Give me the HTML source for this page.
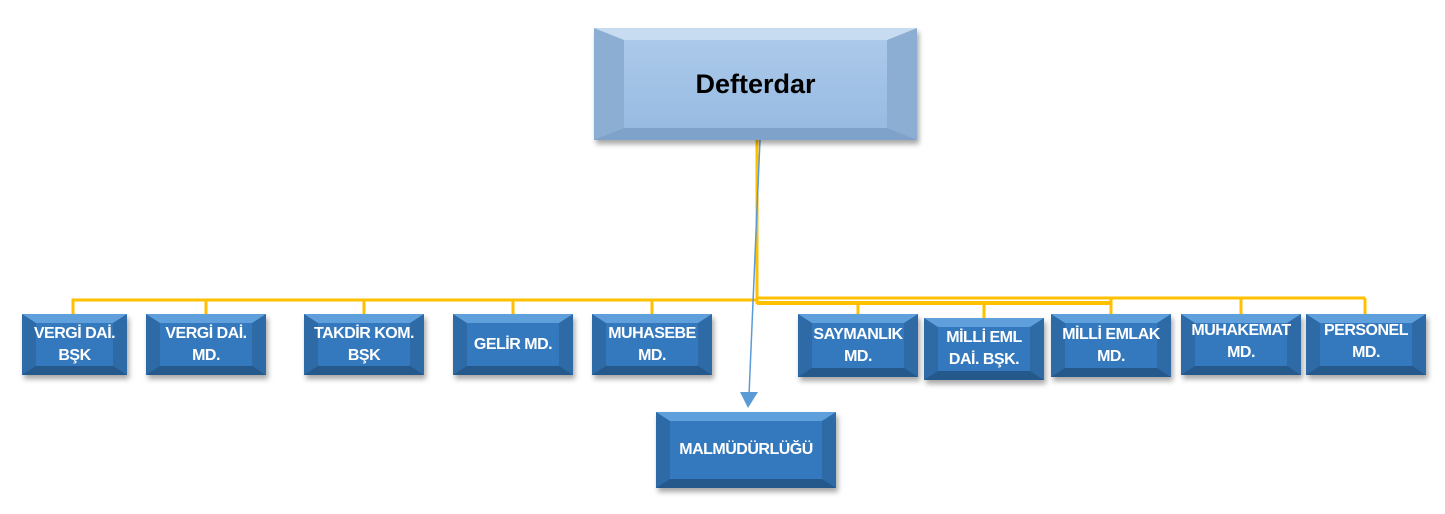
<!DOCTYPE html>
<html><head><meta charset="utf-8"><style>
body{margin:0;width:1445px;height:514px;background:#fff;position:relative;overflow:hidden;font-family:"Liberation Sans","DejaVu Sans",sans-serif}
.b{position:absolute;box-shadow:2px 4px 5px rgba(0,0,0,.35)}
.bv{position:absolute;left:0;top:0;width:100%;height:100%;box-sizing:border-box;border-style:solid;border-width:9px 14px 9px 14px;border-color:#5fa0dc #2d6aa6 #25598c #2d6aa6;background:#3479bd}
.t{position:absolute;left:0;top:0;width:100%;height:100%;display:flex;align-items:center;justify-content:center;text-align:center;color:#fff;font-weight:bold;font-size:16px;line-height:22px;letter-spacing:-.5px}
.d .bv{border-width:12px 30px 12px 30px;border-color:#c7dcf1 #8caed3 #7fa2cb #8caed3;background:linear-gradient(#abc9ea,#98bbe2)}
.d .t{color:#000;font-size:27px;letter-spacing:0}
svg{position:absolute;left:0;top:0}
</style></head><body>
<svg width="1445" height="514">
<g stroke="#ffc000" stroke-width="3" fill="none">
<line x1="757" y1="140" x2="757" y2="304"/>
<polyline points="73,314 73,300 757,300"/>
<line x1="206" y1="300" x2="206" y2="314"/>
<line x1="364" y1="300" x2="364" y2="314"/>
<line x1="513" y1="300" x2="513" y2="314"/>
<line x1="652" y1="300" x2="652" y2="314"/>
<line x1="757" y1="298" x2="1365" y2="298"/>
<line x1="757" y1="303" x2="1110" y2="303" stroke-width="4"/>
<line x1="858" y1="303" x2="858" y2="314"/>
<line x1="984" y1="303" x2="984" y2="318"/>
<line x1="1111" y1="298" x2="1111" y2="314"/>
<line x1="1241" y1="298" x2="1241" y2="314"/>
<line x1="1365" y1="298" x2="1365" y2="314"/>
</g>
<line x1="760" y1="140" x2="749" y2="395" stroke="#5b9bd5" stroke-width="1.5"/>
<polygon points="740,392 758,392 748,408" fill="#5b9bd5"/>
</svg>
<div class="b d" style="left:594px;top:28px;width:323px;height:112px"><div class="bv"></div><div class="t">Defterdar</div></div>
<div class="b" style="left:22px;top:314px;width:105px;height:61px"><div class="bv"></div><div class="t">VERGİ DAİ.<br>BŞK</div></div>
<div class="b" style="left:146px;top:314px;width:120px;height:61px"><div class="bv"></div><div class="t">VERGİ DAİ.<br>MD.</div></div>
<div class="b" style="left:304px;top:314px;width:120px;height:61px"><div class="bv"></div><div class="t">TAKDİR KOM.<br>BŞK</div></div>
<div class="b" style="left:453px;top:314px;width:120px;height:61px"><div class="bv"></div><div class="t">GELİR MD.</div></div>
<div class="b" style="left:592px;top:314px;width:120px;height:61px"><div class="bv"></div><div class="t">MUHASEBE<br>MD.</div></div>
<div class="b" style="left:798px;top:314px;width:120px;height:63px"><div class="bv"></div><div class="t">SAYMANLIK<br>MD.</div></div>
<div class="b" style="left:924px;top:318px;width:120px;height:62px"><div class="bv"></div><div class="t">MİLLİ EML<br>DAİ. BŞK.</div></div>
<div class="b" style="left:1051px;top:314px;width:120px;height:63px"><div class="bv"></div><div class="t">MİLLİ EMLAK<br>MD.</div></div>
<div class="b" style="left:1181px;top:314px;width:120px;height:61px"><div class="bv"></div><div class="t" style="padding-bottom:6px;box-sizing:border-box">MUHAKEMAT<br>MD.</div></div>
<div class="b" style="left:1306px;top:314px;width:120px;height:61px"><div class="bv"></div><div class="t" style="padding-bottom:6px;box-sizing:border-box">PERSONEL<br>MD.</div></div>
<div class="b" style="left:656px;top:412px;width:180px;height:76px"><div class="bv"></div><div class="t">MALMÜDÜRLÜĞÜ</div></div>
</body></html>
